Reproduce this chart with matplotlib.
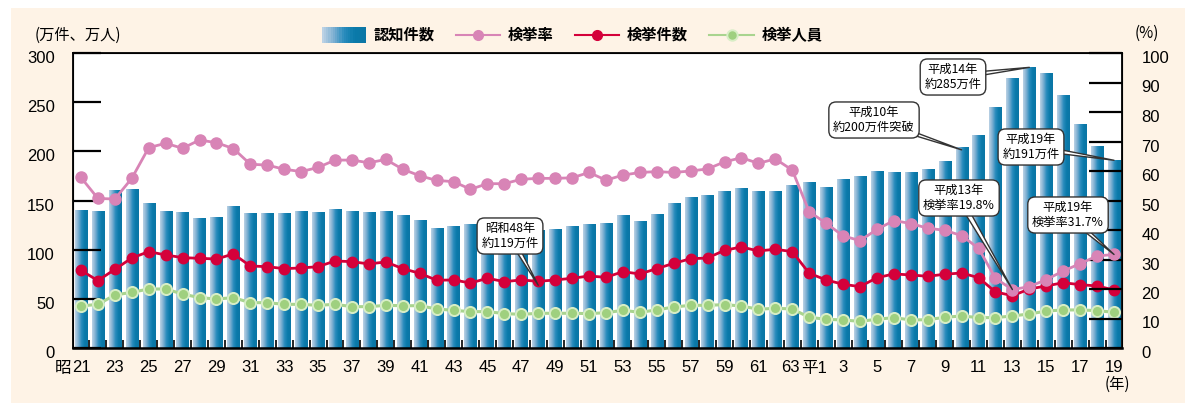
import numpy as np
import matplotlib
matplotlib.use('Agg')
import matplotlib.pyplot as plt
from matplotlib.colors import LinearSegmentedColormap
from matplotlib.patches import Rectangle
from matplotlib.legend_handler import HandlerBase
from matplotlib.lines import Line2D
import matplotlib.transforms as mtransforms

plt.rcParams['font.family'] = ['Liberation Sans', 'Noto Sans CJK JP', 'DejaVu Sans']

# Year labels (昭和21年 .. 平成19年)
years = ['S%d' % y for y in range(21, 64)] + ['H%d' % y for y in range(1, 20)]
tick_labels = [str(y) for y in range(21, 64, 2)] + ['平1'] + [str(y) for y in range(3, 20, 2)]

# 認知件数 (万件)
recognized = [139.4, 139, 160, 161, 147, 139, 138, 132, 133, 144,
              136.6, 137, 137, 139, 138, 141, 139, 138, 139, 135,
              130, 122, 124, 126, 128, 126, 122, 119, 121, 124,
              126, 127, 135, 129, 136, 146.5, 153, 155, 159, 162,
              159, 159, 165, 168, 163.4, 171.6, 174, 180, 178.6, 178.6,
              181.7, 190, 203.5, 216.6, 244.3, 273.6, 285.4, 279, 256.3, 227,
              205.1, 190.9]
# 検挙率 (%)
rate = [57.8, 50.7, 50.5, 57.5, 67.9, 69.4, 67.7, 70.5, 69.6, 67.6,
        62.3, 62.0, 60.6, 59.8, 61.2, 63.7, 63.7, 62.8, 63.9, 60.6,
        58.4, 56.8, 56.4, 53.8, 55.7, 55.7, 57.2, 57.5, 57.5, 57.7,
        59.5, 56.9, 58.6, 59.5, 59.8, 59.5, 60.0, 60.7, 63.1, 64.5,
        62.6, 64.1, 60.3, 46.2, 42.3, 38.0, 36.4, 40.2, 43.2, 42.2,
        40.6, 39.9, 38.1, 33.8, 23.6, 19.8, 20.8, 23.2, 26.1, 28.6,
        31.2, 31.7]
# 検挙件数 (万件)
cleared = [79, 68.5, 80, 91.5, 98, 94.6, 91.9, 91.2, 90.5, 95.6,
           83.4, 82.7, 80.7, 81.4, 82.7, 88.5, 87.8, 85.5, 87.5, 80.7,
           76, 68.9, 69.2, 66.1, 70.9, 67.5, 69.2, 67.8, 69.2, 70.9,
           73.2, 71.9, 77.6, 75.3, 80.7, 86.1, 90.8, 91.5, 99.4, 102.7,
           98.7, 100.4, 98, 76, 69.2, 64.8, 62.4, 71.5, 75.3, 74.3,
           72.9, 75.0, 76.3, 71.5, 57, 53.2, 60.0, 63.1, 66.4, 64.4,
           63.1, 59]
# 検挙人員 (万人)
persons = [42.7, 44.4, 53.9, 56.6, 60, 60, 54.9, 51.2, 49.8, 51.2,
           46.1, 46.1, 44.4, 44.4, 43.4, 44.4, 42.1, 42, 43.4, 43,
           43, 39.7, 38.3, 37, 37, 35, 34.2, 35.3, 35.3, 35.3,
           35, 35.9, 38.3, 36.3, 38.7, 41.7, 43.4, 43.4, 44.1, 42.7,
           39.4, 40.4, 39.7, 31.2, 29.2, 28.5, 27.1, 29.2, 30.9, 28.5,
           28.8, 31.2, 32.6, 30.9, 30.9, 32.6, 34.6, 37.6, 38.7, 38.7,
           38, 36.3]

W, H = 1185, 403


def px(x, y):
    # figure fraction from pixel position (top-left origin)
    return (x / W, 1 - y / H)


bar_cmap = LinearSegmentedColormap.from_list(
    'bar', ['#bcd2e5', '#7fb0d2', '#2a8cbd', '#0a7aaa', '#0b76a5'])
cream = '#fef3e6'
pink = '#d884b6'
red = '#d4003a'
green_line = '#a9d48f'
green_face = '#9fd07f'
green_edge = '#d8eec6'

fig = plt.figure(figsize=(W / 100, H / 100), dpi=100)
fig.patch.set_facecolor('white')
fig.patches.append(Rectangle((11 / W, 0), 1, 1 - 8 / H, transform=fig.transFigure,
                             facecolor=cream, edgecolor='none', zorder=-10))

ax = fig.add_axes([73 / W, 1 - 348 / H, (1122 - 73) / W, (348 - 53) / H])
ax.set_facecolor('white')
x = np.arange(len(years))

bars = ax.bar(x, recognized, width=0.72, color='none', edgecolor='none', zorder=1)
grad = np.linspace(0, 1, 64).reshape(1, -1)
for b in bars:
    x0, w, h = b.get_x(), b.get_width(), b.get_height()
    ax.imshow(grad, extent=[x0, x0 + w, 0, h], aspect='auto', cmap=bar_cmap,
              origin='lower', zorder=1, interpolation='bilinear')

ax.plot(x, persons, color=green_line, lw=2.2, marker='o', ms=8,
        mfc=green_face, mec=green_edge, mew=1.4, zorder=3)
ax.plot(x, cleared, color=red, lw=2, marker='o', ms=7.5, mfc=red, mec=red, zorder=4)

ax.set_xlim(-0.47, 61.47)
ax.set_ylim(0, 300)
ax.set_yticks(np.arange(0, 301, 50))
ax.tick_params(axis='y', direction='in', length=20, width=1.6, pad=13,
               labelsize=12, colors='black')
major = list(range(0, 43, 2)) + list(range(43, 62, 2))
ax.set_xticks(major)
ax.set_xticklabels(tick_labels)
ax.set_xticks(np.arange(0.5, 61, 1), minor=True)
ax.tick_params(axis='x', which='major', length=0, pad=9, labelsize=12)
ax.tick_params(axis='x', which='minor', direction='in', length=6, width=1.2)
for s in ax.spines.values():
    s.set_linewidth(1.3)
ax.spines['bottom'].set_linewidth(1.8)

# 63 and 平1 sit side by side: nudge them apart
for lab in ax.get_xticklabels():
    if lab.get_text() == '平1':
        lab.set_transform(lab.get_transform() +
                          mtransforms.ScaledTranslation(5 / 100, 0, fig.dpi_scale_trans))
    elif lab.get_text() == '63':
        lab.set_transform(lab.get_transform() +
                          mtransforms.ScaledTranslation(-2 / 100, 0, fig.dpi_scale_trans))

ax2 = ax.twinx()
ax2.plot(x, rate, color=pink, lw=2, marker='o', ms=8, mfc=pink, mec=pink, zorder=5)
ax2.set_ylim(0, 100)
ax2.set_yticks(np.arange(0, 101, 10))
ax2.tick_params(axis='y', direction='in', length=24, width=1.6, pad=14, labelsize=12)
ax2.set_xlim(-0.47, 61.47)

# shift y tick labels slightly down like the reference
off = mtransforms.ScaledTranslation(0, -4 / 100, fig.dpi_scale_trans)
for lab in ax.get_yticklabels() + ax2.get_yticklabels():
    lab.set_transform(lab.get_transform() + off)

# prefix 昭 and unit labels
fig.text(*px(63, 368), '昭', ha='center', va='center', fontsize=12,
         family=['Noto Sans CJK JP'])
fig.text(*px(78, 35), '(万件、万人)', ha='center', va='center', fontsize=11,
         family=['Noto Sans CJK JP'])
fig.text(*px(1147, 33), '(%)', ha='center', va='center', fontsize=11,
         family=['Noto Sans CJK JP'])
fig.text(*px(1117, 384), '(年)', ha='center', va='center', fontsize=11,
         family=['Noto Sans CJK JP'])

# callouts
box = dict(boxstyle='round,pad=0.35,rounding_size=0.6', fc='white', ec='#333333', lw=1)
arrow = dict(arrowstyle='wedge,tail_width=0.5,shrink_factor=0.5', fc='white',
             ec='#333333', lw=1, patchA=None, shrinkA=0, shrinkB=0)
cjk = ['Noto Sans CJK JP']


def callout(axis, text, idx, val, pos):
    axis.annotate(text, xy=(idx, val), xytext=px(*pos), textcoords='figure fraction',
                  ha='center', va='center', fontsize=8.8, family=cjk,
                  linespacing=1.15, bbox=box, arrowprops=arrow, zorder=10)


i48 = years.index('S48')
callout(ax, '昭和48年\n約119万件', i48, cleared[i48] - 4, (510, 236))
i10 = years.index('H10')
callout(ax, '平成10年\n約200万件突破', i10, recognized[i10] - 2, (874, 120))
i14 = years.index('H14')
callout(ax, '平成14年\n約285万件', i14, recognized[i14], (953, 77))
i19 = years.index('H19')
callout(ax, '平成19年\n約191万件', i19, recognized[i19], (1031, 147))
i13 = years.index('H13')
callout(ax2, '平成13年\n検挙率19.8%', i13, rate[i13], (959, 198))
callout(ax2, '平成19年\n検挙率31.7%', i19, rate[i19], (1068, 215))


# legend with a gradient patch for the bars
class GradientHandler(HandlerBase):
    def create_artists(self, legend, orig_handle, xdescent, ydescent, width, height,
                       fontsize, trans):
        n = 20
        arts = []
        for k in range(n):
            r = Rectangle((-xdescent + width * k / n, -ydescent - 2), width / n + 0.3,
                          height + 4, facecolor=bar_cmap(k / (n - 1)), edgecolor='none',
                          transform=trans)
            arts.append(r)
        return arts


bar_handle = Rectangle((0, 0), 1, 1)
h_rate = Line2D([], [], color=pink, lw=1.5, marker='o', ms=7, mfc=pink, mec=pink)
h_cleared = Line2D([], [], color=red, lw=1.5, marker='o', ms=7, mfc=red, mec=red)
h_persons = Line2D([], [], color=green_line, lw=1.5, marker='o', ms=7.5,
                   mfc=green_face, mec=green_edge, mew=1.4)
fig.legend([bar_handle, h_rate, h_cleared, h_persons],
           ['認知件数', '検挙率', '検挙件数', '検挙人員'],
           handler_map={Rectangle: GradientHandler()},
           loc='center', bbox_to_anchor=px(572, 35), ncol=4, frameon=False,
           handlelength=2.9, handletextpad=0.5, columnspacing=1.4,
           prop={'family': cjk, 'size': 11, 'weight': 'bold'})

fig.savefig('out.png', dpi=100, facecolor=fig.get_facecolor())
